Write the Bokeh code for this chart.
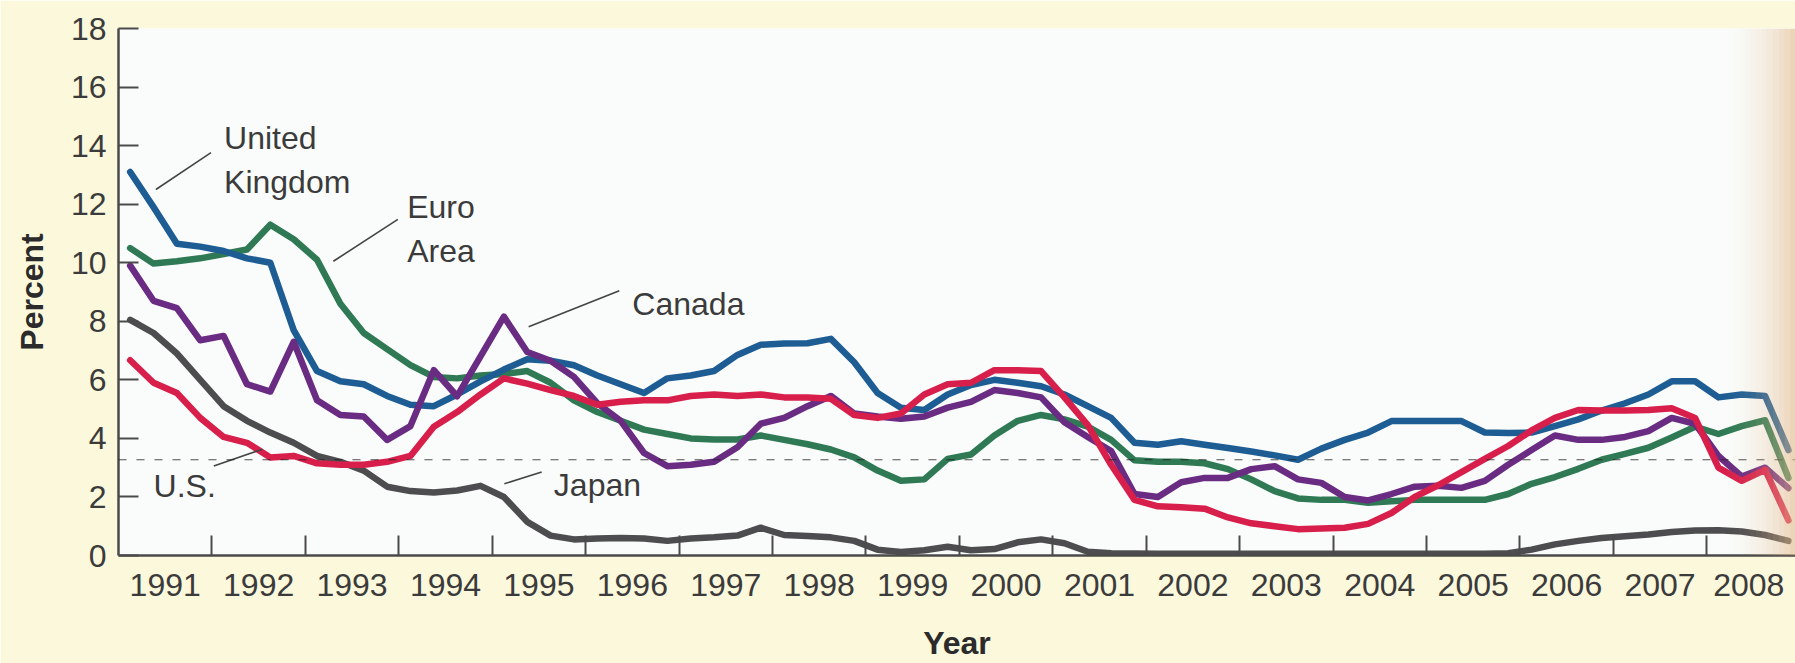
from bokeh.plotting import figure
from bokeh.models import Range1d, FixedTicker, Span, BoxAnnotation
from bokeh.core.properties import value
from bokeh.embed import file_html
from bokeh.resources import INLINE

# Quarterly short-term interest rates, 1991Q1 - 2008Q4 (percent)
years = list(range(1991, 2009))
quarters = [y + (q + 0.5) / 4 for y in years for q in range(4)]

united_kingdom = [
    13.1, 11.9, 10.65, 10.55,  10.4, 10.15, 10.0, 7.7,   6.3, 5.95, 5.85, 5.45,
    5.15, 5.1, 5.5, 5.95,      6.35, 6.7, 6.65, 6.5,     6.15, 5.85, 5.55, 6.05,
    6.15, 6.3, 6.85, 7.2,      7.24, 7.25, 7.4, 6.6,     5.55, 5.05, 4.97, 5.5,
    5.82, 6.0, 5.9, 5.78,      5.5, 5.1, 4.7, 3.85,      3.78, 3.9, 3.78, 3.67,
    3.55, 3.42, 3.27, 3.65,    3.95, 4.2, 4.59, 4.59,    4.59, 4.59, 4.2, 4.18,
    4.2, 4.42, 4.65, 4.95,     5.2, 5.5, 5.95, 5.95,     5.4, 5.5, 5.45, 3.6,
]
euro_area = [
    10.5, 9.97, 10.05, 10.15,  10.3, 10.45, 11.3, 10.8,  10.1, 8.6, 7.6, 7.05,
    6.5, 6.1, 6.05, 6.15,      6.2, 6.3, 5.9, 5.3,       4.9, 4.6, 4.3, 4.15,
    4.0, 3.96, 3.96, 4.1,      3.95, 3.8, 3.62, 3.35,    2.9, 2.55, 2.6, 3.3,
    3.45, 4.1, 4.6, 4.8,       4.65, 4.4, 3.95, 3.25,    3.2, 3.2, 3.15, 2.95,
    2.6, 2.2, 1.95, 1.9,       1.9, 1.8, 1.85, 1.9,      1.9, 1.9, 1.9, 2.1,
    2.45, 2.68, 2.96, 3.27,    3.47, 3.68, 4.03, 4.4,    4.15, 4.42, 4.62, 2.65,
]
canada = [
    9.9, 8.7, 8.45, 7.35,      7.5, 5.85, 5.6, 7.3,      5.3, 4.8, 4.75, 3.95,
    4.42, 6.33, 5.44, 6.8,     8.16, 6.95, 6.65, 6.1,    5.2, 4.6, 3.5, 3.05,
    3.1, 3.2, 3.7, 4.5,        4.7, 5.1, 5.45, 4.85,     4.75, 4.67, 4.75, 5.05,
    5.25, 5.65, 5.55, 5.4,     4.55, 4.05, 3.57, 2.1,    2.0, 2.5, 2.65, 2.65,
    2.95, 3.05, 2.6, 2.48,     2.0, 1.88, 2.1, 2.35,     2.38, 2.31, 2.55, 3.1,
    3.6, 4.1, 3.95, 3.95,      4.05, 4.25, 4.7, 4.5,     3.4, 2.7, 3.0, 2.3,
]
united_states = [
    6.67, 5.9, 5.55, 4.7,      4.05, 3.85, 3.35, 3.4,    3.15, 3.1, 3.1, 3.2,
    3.4, 4.4, 4.9, 5.5,        6.05, 5.87, 5.65, 5.45,   5.15, 5.25, 5.3, 5.3,
    5.45, 5.5, 5.45, 5.5,      5.4, 5.4, 5.35, 4.8,      4.7, 4.85, 5.5, 5.85,
    5.9, 6.33, 6.33, 6.3,      5.4, 4.45, 3.1, 1.9,      1.68, 1.65, 1.6, 1.3,
    1.1, 1.0, 0.9, 0.92,       0.95, 1.08, 1.45, 2.0,    2.4, 2.85, 3.3, 3.74,
    4.27, 4.7, 4.97, 4.95,     4.95, 4.97, 5.03, 4.7,    3.0, 2.55, 2.93, 1.2,
]
japan = [
    8.05, 7.6, 6.9, 6.0,       5.1, 4.6, 4.2, 3.85,      3.4, 3.2, 2.9, 2.35,
    2.2, 2.15, 2.22, 2.38,     2.0, 1.15, 0.68, 0.55,    0.58, 0.6, 0.58, 0.5,
    0.58, 0.62, 0.68, 0.95,    0.7, 0.67, 0.62, 0.5,     0.2, 0.12, 0.18, 0.3,
    0.18, 0.22, 0.45, 0.55,    0.42, 0.13, 0.08, 0.07,   0.06, 0.06, 0.06, 0.06,
    0.06, 0.06, 0.06, 0.06,    0.06, 0.06, 0.06, 0.06,   0.06, 0.06, 0.06, 0.08,
    0.2, 0.38, 0.5, 0.6,       0.66, 0.72, 0.8, 0.85,    0.86, 0.82, 0.7, 0.5,
]

y_ticks = list(range(0, 19, 2))
year_labels = [str(y) for y in years]

FONT = "Liberation Sans"
INK = "#3b3b3b"
TITLE_INK = "#2b2b2b"

x_end = 2008.95
p = figure(
    width=1795, height=663,
    x_range=Range1d(1991.0, x_end), y_range=Range1d(0, 18),
    output_backend="svg", toolbar_location=None,
    min_border_left=118, min_border_right=0, min_border_top=28, min_border_bottom=105,
    background_fill_color="#fafcfb", border_fill_color="#fbf8dc",
    outline_line_color=None,
)
p.grid.visible = False

# x axis: labels centred in each year, boundary ticks pointing inward
label_pos = [(y + min(y + 1, x_end - 0.05)) / 2 for y in years]
xa = p.xaxis[0]
xa.ticker = FixedTicker(ticks=label_pos, minor_ticks=years[1:])
xa.major_label_overrides = {pos: lab for pos, lab in zip(label_pos, year_labels)}
xa.major_tick_in = 0
xa.major_tick_out = 0
xa.minor_tick_in = 20
xa.minor_tick_out = 0
xa.minor_tick_line_width = 2
xa.minor_tick_line_color = "#4a4a4a"
xa.axis_line_width = 2.5
xa.axis_line_color = "#4a4a4a"
xa.major_label_text_font = FONT
xa.major_label_text_font_size = "32px"
xa.major_label_text_color = INK
xa.major_label_standoff = 18
xa.axis_label = "Year"
xa.axis_label_text_font = FONT
xa.axis_label_text_font_style = "bold"
xa.axis_label_text_font_size = "32px"
xa.axis_label_text_color = TITLE_INK
xa.axis_label_standoff = 26

ya = p.yaxis[0]
ya.ticker = FixedTicker(ticks=y_ticks, minor_ticks=[])
ya.major_tick_in = 20
ya.major_tick_out = 0
ya.major_tick_line_width = 2
ya.major_tick_line_color = "#4a4a4a"
ya.axis_line_width = 2.5
ya.axis_line_color = "#4a4a4a"
ya.major_label_text_font = FONT
ya.major_label_text_font_size = "32px"
ya.major_label_text_color = INK
ya.major_label_standoff = 12
ya.axis_label = "Percent"
ya.axis_label_text_font = FONT
ya.axis_label_text_font_style = "bold"
ya.axis_label_text_font_size = "32px"
ya.axis_label_text_color = TITLE_INK
ya.axis_label_standoff = 18

# faint dashed rule running across the page
p.add_layout(Span(location=3.27, dimension="width", line_color="#222222",
                  line_width=1.2, line_dash="8 10", line_alpha=0.8))

series = [
    ("Japan", japan, "#4d4d4f"),
    ("Euro Area", euro_area, "#2f7a55"),
    ("United Kingdom", united_kingdom, "#1d5d94"),
    ("Canada", canada, "#6a2b83"),
    ("U.S.", united_states, "#d81f4c"),
]
for name, vals, col in series:
    p.line(quarters, vals, line_color=col, line_width=6.5, line_join="round", line_cap="round")

# series names with leader lines
names_x = [1992.13, 1992.13, 1994.09, 1994.09, 1996.50, 1991.375, 1995.66]
names_y = [14.27, 12.77, 11.89, 10.39, 8.59, 2.38, 2.41]
names = ["United", "Kingdom", "Euro", "Area", "Canada", "U.S.", "Japan"]
p.text(x=names_x, y=names_y, text=names, text_font=value(FONT), text_font_size="32px",
       text_color=INK, text_baseline="alphabetic", text_align="left")

leaders_x0 = [1991.40, 1993.30, 1995.39, 1992.02, 1995.13]
leaders_y0 = [12.5, 10.05, 7.81, 3.06, 2.45]
leaders_x1 = [1991.99, 1993.99, 1996.36, 1992.54, 1995.53]
leaders_y1 = [13.76, 11.48, 9.04, 3.63, 2.85]
p.segment(leaders_x0, leaders_y0, leaders_x1, leaders_y1, line_color="#444444", line_width=1.6)

# warm shading where the page curves into the binding
n_strips = 14
shade_start = 2008.1
step = (x_end - shade_start) / n_strips
for i in range(n_strips):
    frac = (i + 1) / n_strips
    p.add_layout(BoxAnnotation(left=shade_start + i * step, right=shade_start + (i + 1) * step,
                               fill_color="#e3b98c", fill_alpha=0.6 * frac ** 2.2,
                               line_alpha=0))

open("out.html", "w").write(file_html(p, INLINE))
